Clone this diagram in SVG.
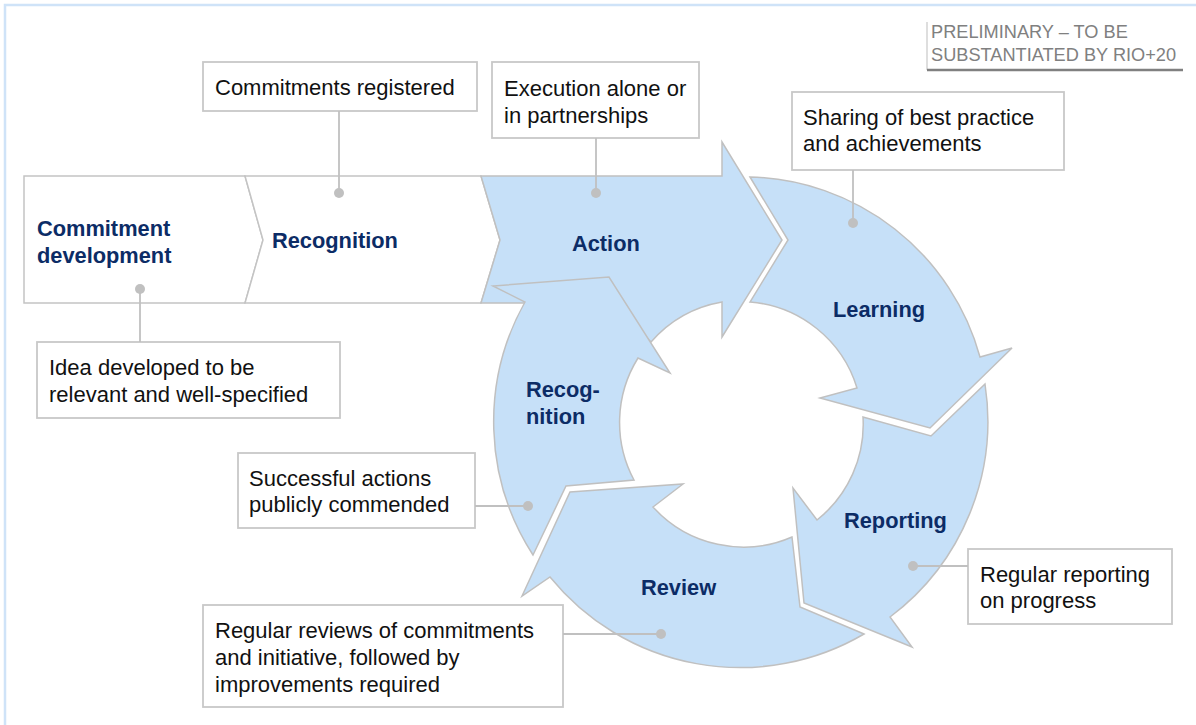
<svg xmlns="http://www.w3.org/2000/svg" width="1196" height="725" viewBox="0 0 1196 725">
<style>
.frame{fill:none;stroke:#cfe3f8;stroke-width:2.5}
.chev{fill:#ffffff;stroke:#c4c4c4;stroke-width:1.5;stroke-linejoin:miter}
.seg{fill:#c6e0f8;stroke:#c0c0c0;stroke-width:1.5;stroke-linejoin:miter}
.box{fill:#ffffff;stroke:#c8c8c8;stroke-width:1.8}
.lbl{font-family:"Liberation Sans",Arial,sans-serif;font-size:21.8px;font-weight:bold;fill:#0c2c66}
.txt{font-family:"Liberation Sans",Arial,sans-serif;font-size:22px;fill:#111111}
.pre{font-family:"Liberation Sans",Arial,sans-serif;font-size:18.2px;fill:#808080}
.con{fill:none;stroke:#c0c0c0;stroke-width:1.8}
.dot{fill:#c0c0c0}
</style>
<path class="frame" d="M5,730 V5 H1200"/>
<g id="preliminary">
<path d="M927,22 V70" stroke="#c8c8c8" stroke-width="1.2" fill="none"/>
<path d="M927,70 H1183" stroke="#808080" stroke-width="2.5" fill="none"/>
<text class="pre" x="931" y="38">PRELIMINARY – TO BE</text>
<text class="pre" x="931" y="61">SUBSTANTIATED BY RIO+20</text>
</g>
<g id="commitment-development">
<path class="chev" d="M24,176 H245 L263,240 L245,303 H24 Z"/>
<text class="lbl" x="37" y="236">Commitment</text>
<text class="lbl" x="37" y="263">development</text>
</g>
<g id="recognition-chevron">
<path class="chev" d="M245,176 H481 L500,240 L481,303 H245 L263,240 Z"/>
<text class="lbl" x="272" y="248">Recognition</text>
</g>
<g id="action">
<path class="seg" d="M481,176 H722 V142 L782,240 L722,337 V302 A122,122 0 0 0 651,342 L600,290 L527,303 H481 L500,240 Z"/>
<text class="lbl" x="572" y="251">Action</text>
</g>
<g id="learning">
<path class="seg" d="M750,177 L788,240 L750,302 A122,122 0 0 1 857,388 L820,398 L930,428 L1012,348 L980,357 A245,245 0 0 0 750,177 Z"/>
<text class="lbl" x="833" y="317">Learning</text>
</g>
<g id="reporting">
<path class="seg" d="M985,384 L931,436 L863,417 A122,122 0 0 1 817,520 L793,488 L804,603 L912,647 L890,617 A245,245 0 0 0 985,384 Z"/>
<text class="lbl" x="844" y="528">Reporting</text>
</g>
<g id="review">
<path class="seg" d="M864,634 L800,607 L792,537 A122,122 0 0 1 653,507 L683,484 L570,492 L522,596 L550,577 A245,245 0 0 0 864,634 Z"/>
<text class="lbl" x="641" y="595">Review</text>
</g>
<g id="recognition-ring">
<path class="seg" d="M533,555 L566,486 L634,480 A122,122 0 0 1 638,358 L670,373 L609,277 L493,286 L525,302 A245,245 0 0 0 533,555 Z"/>
<text class="lbl" x="526" y="397">Recog-</text>
<text class="lbl" x="526" y="424">nition</text>
</g>
<g id="note-registered">
<rect class="box" x="203" y="62" width="274" height="49"/>
<text class="txt" x="215" y="95">Commitments registered</text>
</g>
<g id="note-execution">
<rect class="box" x="492" y="62" width="207" height="76"/>
<text class="txt" x="504" y="96">Execution alone or</text>
<text class="txt" x="504" y="123">in partnerships</text>
</g>
<g id="note-sharing">
<rect class="box" x="792" y="92" width="272" height="78"/>
<text class="txt" x="803" y="125">Sharing of best practice</text>
<text class="txt" x="803" y="151">and achievements</text>
</g>
<g id="note-idea">
<rect class="box" x="37" y="342" width="303" height="76"/>
<text class="txt" x="49" y="375">Idea developed to be</text>
<text class="txt" x="49" y="402">relevant and well-specified</text>
</g>
<g id="note-successful">
<rect class="box" x="238" y="453" width="237" height="75"/>
<text class="txt" x="249" y="486">Successful actions</text>
<text class="txt" x="249" y="512">publicly commended</text>
</g>
<g id="note-reviews">
<rect class="box" x="203" y="605" width="360" height="102"/>
<text class="txt" x="215" y="638">Regular reviews of commitments</text>
<text class="txt" x="215" y="665">and initiative, followed by</text>
<text class="txt" x="215" y="692">improvements required</text>
</g>
<g id="note-reporting">
<rect class="box" x="968" y="549" width="204" height="75"/>
<text class="txt" x="980" y="582">Regular reporting</text>
<text class="txt" x="980" y="608">on progress</text>
</g>
<g id="connectors">
<path class="con" d="M339,111 V193"/><circle class="dot" cx="339" cy="193" r="5"/>
<path class="con" d="M596,138 V193"/><circle class="dot" cx="596" cy="193" r="5"/>
<path class="con" d="M853,170 V223"/><circle class="dot" cx="853" cy="223" r="5"/>
<path class="con" d="M140,342 V289"/><circle class="dot" cx="140" cy="289" r="5"/>
<path class="con" d="M475,506 H528"/><circle class="dot" cx="528" cy="506" r="5"/>
<path class="con" d="M563,634 H661"/><circle class="dot" cx="661" cy="634" r="5"/>
<path class="con" d="M968,566 H913"/><circle class="dot" cx="913" cy="566" r="5"/>
</g>
</svg>
